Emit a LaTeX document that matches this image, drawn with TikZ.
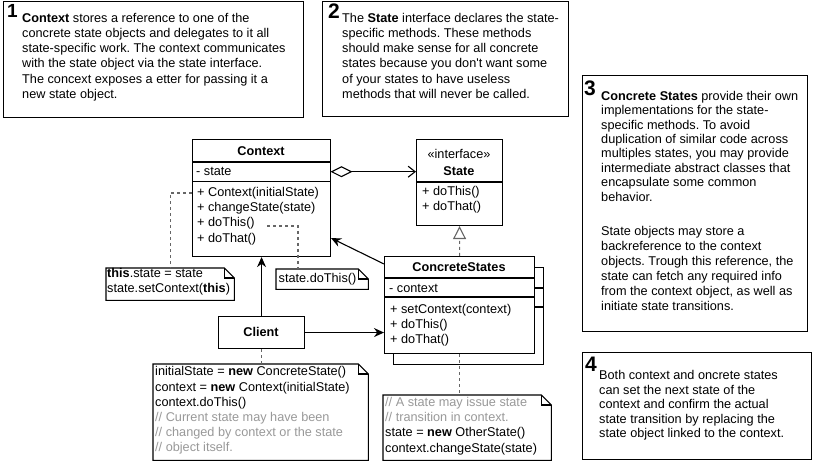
\documentclass[tikz,border=0pt]{standalone}
\usepackage{fontspec}
\setmainfont{Liberation Sans}
\usetikzlibrary{arrows.meta,calc}
\definecolor{cmt}{HTML}{999999}
\definecolor{dashc}{HTML}{666666}
\frenchspacing
\newcommand\notepath[1]{%
  \draw[ln,fill=white] (#1.north west) -- ($(#1.north east)+(-10,0)$) -- ($(#1.north east)+(0,10)$) -- (#1.south east) -- (#1.south west) -- cycle;
  \draw[ln] ($(#1.north east)+(-10,0)$) -- ($(#1.north east)+(-10,10)$) -- ($(#1.north east)+(0,10)$);}
\begin{document}
\begin{tikzpicture}[x=1bp,y=-1bp,
  box/.style={draw=black,line width=1.1bp,fill=white,inner sep=0,anchor=north west},
  area/.style={inner sep=0,anchor=north west},
  tx/.style={inner sep=0,anchor=north west,yshift=11bp,align=left,font=\fontsize{12.7bp}{15.2bp}\selectfont,execute at begin node={\rule{0pt}{11bp}}},
  txc/.style={inner sep=0,anchor=base,align=center,font=\fontsize{12.7bp}{15.2bp}\selectfont},
  num/.style={inner sep=0,anchor=base west,font=\fontsize{21bp}{21bp}\selectfont\bfseries},
  dl/.style={draw=dashc,line width=1.1bp,dash pattern=on 3bp off 3bp},
  ln/.style={draw=black,line width=1.1bp},
  fill arrow/.style={-{Stealth[length=10bp,width=9bp]}},
]
\useasboundingbox (0,0) rectangle (820,465);

% ---------- explanation boxes ----------
\node[box,minimum width=300bp,minimum height=116bp] (b1) at (3,1) {};
\node[num,font=\fontsize{19bp}{19bp}\selectfont\bfseries] (b1n) at (7,18) {1};
\node[tx] (b1t) at (22,24) {\textbf{Context} stores a reference to one of the\\concrete state objects and delegates to it all\\state-specific work. The context communicates\\with the state object via the state interface.\\The concext exposes a etter for passing it a\\new state object.};

\node[box,minimum width=246bp,minimum height=115bp] (b2) at (322,1) {};
\node[num] (b2n) at (328,19) {2};
\node[tx] (b2t) at (342,24) {The \textbf{State} interface declares the state-\\specific methods. These methods\\should make sense for all concrete\\states because you don\textquotesingle t want some\\of your states to have useless\\methods that will never be called.};

\node[box,minimum width=225bp,minimum height=256bp] (b3) at (582,75) {};
\node[num] (b3n) at (584,96) {3};
\node[tx,font=\fontsize{12.7bp}{14.4bp}\selectfont] (b3t) at (601,102) {\textbf{Concrete States} provide their own\\implementations for the state-\\specific methods. To avoid\\duplication of similar code across\\multiples states, you may provide\\intermediate abstract classes that\\encapsulate some common\\behavior.};
\node[tx,font=\fontsize{12.7bp}{15bp}\selectfont] (b3u) at (601,237) {State objects may store a\\backreference to the context\\objects. Trough this reference, the\\state can fetch any required info\\from the context object, as well as\\initiate state transitions.};

\node[box,minimum width=229bp,minimum height=107bp] (b4) at (582,352) {};
\node[num] (b4n) at (585,372) {4};
\node[tx,font=\fontsize{12.7bp}{14.6bp}\selectfont] (b4t) at (599,381) {Both context and oncrete states\\can set the next state of the\\context and confirm the actual\\state transition by replacing the\\state object linked to the context.};

% ---------- Context class ----------
\node[box,minimum width=138bp,minimum height=117bp] (ctx) at (192,139) {};
\node[area,minimum width=138bp,minimum height=23bp] (ctxT) at (192,139) {};
\node[area,minimum width=138bp,minimum height=19bp] (ctxA) at (192,162) {};
\draw[ln] (ctxA.north west) -- (ctxA.north east);
\draw[ln] (ctxA.south west) -- (ctxA.south east);
\node[txc,font=\fontsize{12.7bp}{15.2bp}\selectfont\bfseries] (ctxTt) at (261,156) {Context};
\node[tx] (ctxAt) at (196,175.5) {- state};
\node[tx] (ctxOt) at (197,198) {+ Context(initialState)\\+ changeState(state)\\+ doThis()\\+ doThat()};

% ---------- State interface ----------
\node[box,minimum width=86bp,minimum height=86bp] (st) at (416,139) {};
\draw[ln] ($(st.north west)+(0,43)$) -- ($(st.north east)+(0,43)$);
\node[txc] (stS) at (459,159) {«interface»};
\node[txc,font=\fontsize{12.7bp}{15.2bp}\selectfont\bfseries] (stT) at (459,176) {State};
\node[tx] (stO) at (422,197) {+ doThis()\\+ doThat()};

% ---------- ConcreteStates ----------
\node[box,minimum width=150bp,minimum height=97bp] (csb) at (393,267) {};
\draw[ln] ($(csb.north west)+(0,21)$) -- ($(csb.north east)+(0,21)$);
\draw[ln] ($(csb.north west)+(0,40)$) -- ($(csb.north east)+(0,40)$);
\node[box,minimum width=150bp,minimum height=97bp] (cs) at (384,256) {};
\draw[ln] ($(cs.north west)+(0,22)$) -- ($(cs.north east)+(0,22)$);
\draw[ln] ($(cs.north west)+(0,41)$) -- ($(cs.north east)+(0,41)$);
\node[txc,font=\fontsize{12.7bp}{15.2bp}\selectfont\bfseries] (csT) at (459,272) {ConcreteStates};
\node[tx] (csA) at (389,292) {- context};
\node[tx] (csO) at (390,315) {+ setContext(context)\\+ doThis()\\+ doThat()};

% ---------- Client ----------
\node[box,minimum width=86bp,minimum height=32bp] (cli) at (218,316) {};
\node[txc,font=\fontsize{12.7bp}{15.2bp}\selectfont\bfseries] (cliT) at (261,336.5) {Client};

% ---------- notes ----------
\node[area,minimum width=128bp,minimum height=32bp] (n1) at (106,268) {};
\notepath{n1}
\node[tx] (n1t) at (107,279) {\textbf{this}.state = state\\state.setContext(\textbf{this})};

\node[area,minimum width=92bp,minimum height=20bp] (n2) at (276,269) {};
\notepath{n2}
\node[tx] (n2t) at (278.5,282) {state.doThis()};

\node[area,minimum width=215bp,minimum height=96bp] (n3) at (153,364) {};
\notepath{n3}
\node[tx] (n3t) at (155,377.5) {initialState = \textbf{new} ConcreteState()\\context = \textbf{new} Context(initialState)\\context.doThis()\\\textcolor{cmt}{// Current state may have been}\\\textcolor{cmt}{// changed by context or the state}\\\textcolor{cmt}{// object itself.}};

\node[area,minimum width=168bp,minimum height=65bp] (n4) at (383,395) {};
\notepath{n4}
\node[tx] (n4t) at (385,408) {\textcolor{cmt}{// A state may issue state}\\\textcolor{cmt}{// transition in context.}\\state = \textbf{new} OtherState()\\context.changeState(state)};

% ---------- connectors ----------
\draw[ln,{Diamond[fill=white,length=22bp,width=11bp]}-{Straight Barb[length=7bp,width=11bp]}] (ctxA.east) -- (ctxA.east -| st.west);
\draw[dl,-{Triangle[open,fill=white,length=13bp,width=13bp]}] (cs.north) -- (st.south);
\draw[ln,fill arrow] ($(cs.north west)+(0,8)$) -- ($(ctx.south east)+(0,-19)$);
\draw[ln,fill arrow] (cli.north) -- (cli.north |- ctx.south);
\draw[ln,fill arrow] (cli.east) -- (cli.east -| cs.west);
\coordinate (ctxL) at ($(ctx.north west)+(0,54)$);
\draw[dl] (ctxL) -| (n1.north);
\coordinate (dtEnd) at ($(ctx.north west)+(75,87)$);
\coordinate (n2top) at ($(n2.north west)+(22,0)$);
\draw[dl] (dtEnd) -| (n2top);
\draw[dl] (cli.south) -- (cli.south |- n3.north);
\draw[dl] (cs.south) -- (cs.south |- n4.north);
\end{tikzpicture}
\end{document}
